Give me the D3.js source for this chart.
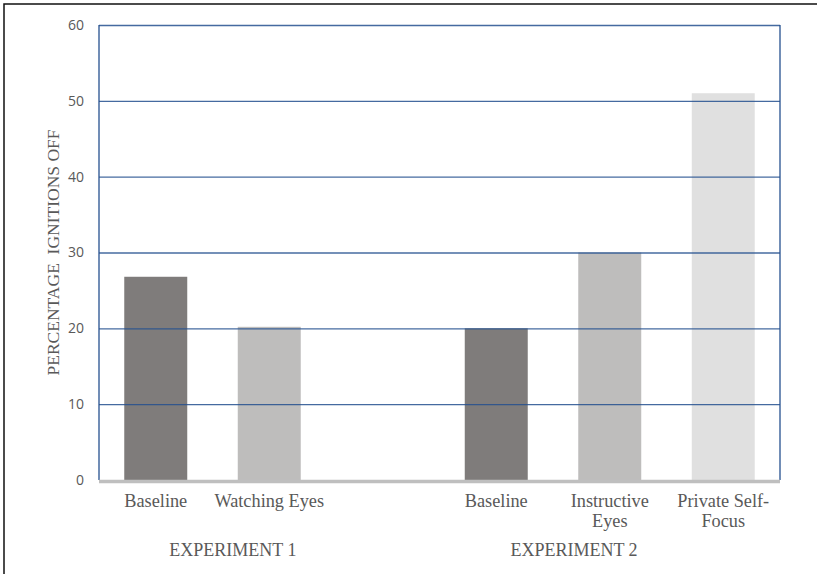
<!DOCTYPE html>
<html><head><meta charset="utf-8">
<script src="https://cdn.jsdelivr.net/npm/d3@7"></script>
<style>body{margin:0;background:#fff}svg{display:block}</style>
</head><body>
<script>
const slots = ["e1b","e1w","gap","e2b","e2i","e2p"];
const barSlots = ["e1b","e1w","e2b","e2i","e2p"];
const barValues = [26.8, 20.2, 20.0, 30.0, 51.0];
const barLabels = [["Baseline"],["Watching Eyes"],["Baseline"],["Instructive","Eyes"],["Private Self-","Focus"]];
const barColors = ["#7f7c7b","#bebdbc","#7f7c7b","#bebdbc","#e0e0e0"];
const groupLabels = ["EXPERIMENT 1","EXPERIMENT 2"];
const groupCenters = [1.18, 4.185]; // in slot index units from plot left
const yTicks = [0,10,20,30,40,50,60];
const yLabel = "PERCENTAGE  IGNITIONS OFF";

const W=817,H=574;
const m={l:99,t:25,r:37,b:94};
const svg=d3.select("body").append("svg").attr("width",W).attr("height",H);
svg.append("rect").attr("x",4).attr("y",4).attr("width",W+10).attr("height",H+10)
  .attr("fill","none").attr("stroke","#111").attr("stroke-width",1.5);

const x=d3.scaleBand().domain(slots).range([m.l,W-m.r]).paddingInner(0.445).paddingOuter(0.2225);
const y=d3.scaleLinear().domain([0,60]).range([H-m.b,m.t]);
const slotW=(W-m.r-m.l)/slots.length;

const g=svg.append("g");
g.selectAll("rect.bar").data(barValues).join("rect").attr("class","bar")
  .attr("x",(d,i)=>x(barSlots[i])).attr("width",x.bandwidth())
  .attr("y",d=>y(d)).attr("height",d=>y(0)-y(d))
  .attr("fill",(d,i)=>barColors[i]);

const ax=d3.axisLeft(y).tickValues(yTicks).tickSize(-(W-m.r-m.l)).tickPadding(15).tickFormat(d3.format("d"));
const ag=svg.append("g").attr("transform",`translate(${m.l},0)`).call(ax);
ag.select(".domain").remove();
ag.selectAll(".tick line").attr("stroke","#25508f").attr("stroke-width",1.3).attr("stroke-opacity",0.85)
  .filter(d=>d===0).remove();
ag.selectAll(".tick text").attr("fill","#595959").style("font-family","'Open Sans', 'Liberation Sans', sans-serif").style("font-size","14px").attr("x",-15);

svg.append("line").attr("x1",m.l).attr("x2",m.l).attr("y1",y(60)).attr("y2",y(0)).attr("stroke","#25508f").attr("stroke-width",1.3);
svg.append("line").attr("x1",W-m.r).attr("x2",W-m.r).attr("y1",y(60)).attr("y2",y(0)).attr("stroke","#25508f").attr("stroke-width",1.3);
svg.append("line").attr("x1",m.l).attr("x2",W-m.r).attr("y1",y(0)+1.5).attr("y2",y(0)+1.5).attr("stroke","#bfbfbf").attr("stroke-width",3.5);

const serif="'Liberation Serif','Times New Roman',serif";
barLabels.forEach((lines,i)=>{
  const cx=x(barSlots[i])+x.bandwidth()/2;
  const t=svg.append("text").attr("x",cx).attr("y",507).attr("text-anchor","middle")
    .attr("fill","#595959").style("font-family",serif).style("font-size","18.3px");
  lines.forEach((l,j)=>t.append("tspan").attr("x",cx).attr("dy",j?20:0).text(l));
});
groupLabels.forEach((l,i)=>{
  svg.append("text").attr("x",m.l+slotW*groupCenters[i]).attr("y",556).attr("text-anchor","middle")
    .attr("fill","#595959").style("font-family",serif).style("font-size","18px").text(l);
});
svg.append("text").attr("transform",`translate(59,${(y(0)+y(60))/2}) rotate(-90)`).attr("text-anchor","middle")
  .attr("fill","#595959").style("font-family",serif).style("font-size","17.5px").style("white-space","pre").text(yLabel);
</script>
</body></html>
